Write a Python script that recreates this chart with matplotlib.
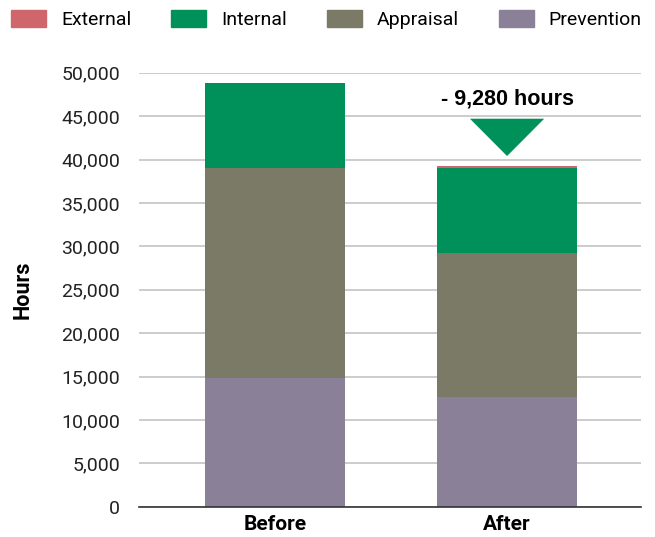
import matplotlib
matplotlib.use("Agg")
import matplotlib.pyplot as plt
from matplotlib.patches import Patch, Polygon
from matplotlib.ticker import FuncFormatter

categories = ["Before", "After"]
series_names = ["External", "Internal", "Appraisal", "Prevention"]
prevention = [14800, 12670]
appraisal = [24200, 16590]
internal = [9850, 9740]
external = [0, 230]
reduction_label = "- 9,280 hours"

colors = {
    "External": "#cf666b",
    "Internal": "#00915a",
    "Appraisal": "#7a7a66",
    "Prevention": "#8a8097",
}

plt.rcParams["font.family"] = ["Roboto", "DejaVu Sans"]

fig = plt.figure(figsize=(6.55, 5.37), dpi=100)
ax = fig.add_axes([0.212, 0.0564, 0.767, 0.8082])

x = list(range(len(categories)))
width = 0.603
bottom = [0, 0]
for name, vals in [("Prevention", prevention), ("Appraisal", appraisal),
                   ("Internal", internal), ("External", external)]:
    ax.bar(x, vals, width, bottom=bottom, color=colors[name], zorder=3)
    bottom = [b + v for b, v in zip(bottom, vals)]

# drop marker above the "After" bar
tri = Polygon([(1 - 0.16, 44700), (1 + 0.16, 44700), (1, 40400)],
              closed=True, color=colors["Internal"], zorder=4, lw=0)
ax.add_patch(tri)
ax.text(1, 46970, reduction_label, ha="center", va="center",
        fontsize=15.5, fontweight="bold", family=["Liberation Sans", "DejaVu Sans"])

ax.set_xlim(-0.586, 1.578)
ax.set_ylim(0, 50000)
ax.set_yticks(range(0, 50001, 5000))
ax.yaxis.set_major_formatter(FuncFormatter(lambda v, p: f"{int(v):,}"))
ax.grid(axis="y", color="#cccccc", lw=1.4, zorder=0)
ax.set_axisbelow(True)
for s in ["top", "right", "left"]:
    ax.spines[s].set_visible(False)
ax.spines["bottom"].set_color("#333333")
ax.spines["bottom"].set_linewidth(1.2)
ax.spines["bottom"].set_zorder(5)
ax.tick_params(axis="y", length=0, pad=13.5, labelsize=14, labelcolor="#222222")
ax.tick_params(axis="x", length=0, pad=6)
ax.set_xticks(x)
ax.set_xticklabels(categories, fontsize=15, fontweight="bold")
ax.set_ylabel("Hours", fontsize=15.5, fontweight="bold")
ax.yaxis.set_label_coords(-0.209, 0.5)

handles = [Patch(color=colors[n]) for n in series_names]
fig.legend(handles, series_names, loc="center left", bbox_to_anchor=(11 / 655, 0.963),
           ncol=4, frameon=False, prop={"size": 14},
           handlelength=1.8, handleheight=0.93, handletextpad=0.77,
           columnspacing=2.05, borderaxespad=0, borderpad=0)

fig.savefig("out.png", dpi=100)
